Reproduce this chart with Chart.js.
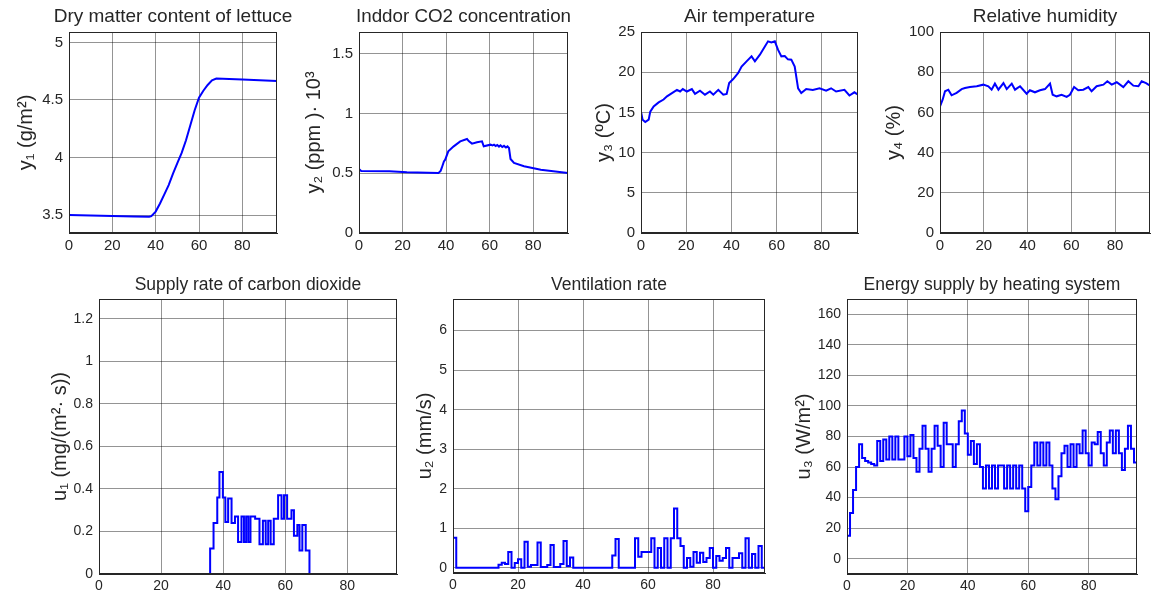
<!DOCTYPE html>
<html>
<head>
<meta charset="utf-8">
<script src="https://cdn.jsdelivr.net/npm/chart.js@4.4.1/dist/chart.umd.min.js"></script>
<style>
  html, body { margin: 0; padding: 0; background: #ffffff; }
  #wrap { position: relative; width: 1161px; height: 594px; overflow: hidden; }
  #wrap canvas { position: absolute; left: 0; top: 0; }
</style>
</head>
<body>
<div id="wrap">
  <canvas id="c1" width="1161" height="594"></canvas>
  <canvas id="c2" width="1161" height="594"></canvas>
  <canvas id="c3" width="1161" height="594"></canvas>
  <canvas id="c4" width="1161" height="594"></canvas>
  <canvas id="c5" width="1161" height="594"></canvas>
  <canvas id="c6" width="1161" height="594"></canvas>
  <canvas id="c7" width="1161" height="594"></canvas>
</div>
<script>
// ---------------- DATA ----------------
const xTickValues = [0, 20, 40, 60, 80];

// y1: dry matter content of lettuce (g/m^2)
const y1Times  = [0, 10, 20, 30, 37, 38, 40, 42, 44, 46, 48, 50, 52, 54, 56, 58, 60, 62, 64, 66, 68, 80, 96];
const y1Values = [3.50, 3.496, 3.492, 3.488, 3.485, 3.49, 3.53, 3.6, 3.68, 3.76, 3.86, 3.95, 4.04, 4.15, 4.28, 4.41, 4.52, 4.58, 4.63, 4.67, 4.685, 4.677, 4.665];
const y1Ticks  = [3.5, 4, 4.5, 5];

// y2: indoor CO2 concentration (ppm * 10^3)
const y2Times  = [0, 1, 14, 22, 36.5, 37.5, 38, 39, 39.6, 41, 43.5, 46.5, 49.6, 50.4, 51.9, 54.2, 56.5, 57.3, 60.4, 61.3, 62, 62.8, 63.5, 64.3, 65, 65.8, 66.6, 67.5, 68.2, 68.9, 69.6, 71.2, 75.8, 83.5, 96];
const y2Values = [0.536, 0.52, 0.517, 0.508, 0.503, 0.52, 0.545, 0.6, 0.614, 0.684, 0.726, 0.768, 0.788, 0.77, 0.749, 0.76, 0.768, 0.726, 0.74, 0.733, 0.74, 0.728, 0.737, 0.724, 0.735, 0.72, 0.73, 0.716, 0.726, 0.712, 0.62, 0.587, 0.559, 0.53, 0.503];
const y2Ticks  = [0, 0.5, 1, 1.5];

// y3: air temperature (deg C)
const y3Times  = [0, 0.7, 1.9, 3.4, 4.1, 5.6, 7.8, 10, 11.5, 13.7, 15.9, 17.3, 18.5, 20.3, 22.5, 23.9, 26.1, 28.3, 30.5, 32, 34.2, 36.4, 37.9, 39, 40.8, 43, 44.5, 46.7, 48.9, 50.4, 52.6, 54.8, 56.2, 57.7, 59.2, 60.6, 62.1, 63.6, 65, 66.5, 68, 69.5, 70.9, 73.1, 76, 79, 81.9, 84.1, 86.3, 90, 92.2, 94.4, 96];
const y3Values = [15.1, 14.1, 13.8, 14.1, 15.1, 15.75, 16.25, 16.6, 17, 17.4, 17.8, 17.6, 17.9, 17.6, 17.9, 17.3, 17.7, 17.2, 17.6, 17.2, 17.8, 17.2, 17.3, 18.66, 19.15, 19.9, 20.7, 21.35, 21.97, 21.35, 22.18, 23.2, 23.84, 23.7, 23.84, 22.8, 21.97, 22, 21.6, 21.56, 20.7, 18.0, 17.4, 17.9, 17.8, 18, 17.7, 18, 17.6, 17.8, 17.1, 17.5, 17.2];
const y3Ticks  = [0, 5, 10, 15, 20, 25];

// y4: relative humidity (%)
const y4Times  = [0, 0.3, 1.2, 2.3, 3.8, 5.3, 7.6, 9.9, 11.4, 13.7, 16.8, 19.8, 22.1, 23.6, 25.1, 26.7, 29, 30.5, 32.8, 34.3, 36.6, 39.6, 41.1, 43.4, 45.7, 48, 50.3, 51.5, 53.3, 55.6, 57.9, 59.4, 61.3, 63.2, 65.5, 67.8, 69.3, 71.6, 74.7, 76.5, 78.5, 80.8, 83.8, 86.1, 88.4, 90.7, 92.2, 94.2, 96];
const y4Values = [63, 63, 66.3, 70.5, 71.3, 68.5, 69.7, 71.6, 72.1, 72.6, 73, 73.8, 73, 71.3, 74.3, 71.3, 74.6, 71.6, 74.3, 71.3, 73, 69.3, 71, 70, 71, 71.6, 74.3, 68.8, 68, 68.8, 67.7, 68.8, 72.6, 71, 71.3, 72.6, 70.5, 73, 73.8, 75.5, 73.8, 75, 72.6, 75.5, 73.3, 73, 75.5, 74.6, 73.3];
const y4Ticks  = [0, 20, 40, 60, 80, 100];

// u1: supply rate of CO2 (mg/(m^2 s)) - step changes at these times
const u1Times  = [0, 35.8, 36.9, 38.1, 38.8, 39.9, 40.7, 41.6, 42.7, 43.8, 44.8, 45.9, 46.7, 47.4, 48.1, 48.8, 50.3, 51.7, 52.8, 53.7, 54.5, 55.3, 56.3, 57.7, 58.8, 59.6, 60.6, 62, 62.8, 63.9, 64.6, 65.5, 66.6, 67.8, 96];
const u1Values = [0, 0.12, 0.24, 0.36, 0.48, 0.36, 0.245, 0.355, 0.24, 0.27, 0.15, 0.27, 0.15, 0.27, 0.15, 0.27, 0.26, 0.14, 0.25, 0.14, 0.25, 0.14, 0.26, 0.37, 0.26, 0.37, 0.26, 0.30, 0.18, 0.23, 0.11, 0.23, 0.11, 0, 0];
const u1Ticks  = [0, 0.2, 0.4, 0.6, 0.8, 1, 1.2];

// u2: ventilation rate (mm/s), one value per hour
const u2Values = [
  0.76, 0, 0, 0, 0, 0, 0, 0, 0, 0,
  0, 0, 0, 0, 0.08, 0.13, 0.1, 0.4, 0, 0.12,
  0.22, 0, 0.66, 0.03, 0.07, 0.07, 0.64, 0.02, 0.02, 0.07,
  0.58, 0.02, 0.02, 0.1, 0.68, 0.05, 0.26, 0, 0, 0,
  0, 0, 0, 0, 0, 0, 0, 0, 0, 0.31,
  0.73, 0, 0, 0, 0, 0, 0.75, 0.28, 0.4, 0.4,
  0.4, 0.75, 0, 0.5, 0, 0.75, 0, 0.75, 1.5, 0.75,
  0.55, 0, 0.25, 0.03, 0.4, 0.13, 0.38, 0.15, 0.25, 0.5,
  0, 0.3, 0.18, 0.25, 0.5, 0, 0.25, 0.25, 0.37, 0,
  0.75, 0, 0.35, 0, 0.55, 0
];
const u2Ticks = [0, 1, 2, 3, 4, 5, 6];

// u3: energy supply by heating system (W/m^2), one value per hour
const u3Values = [
  15, 30, 45, 60, 75, 66, 64, 63, 62, 61,
  77, 64, 78, 65, 80, 65, 80, 65, 65, 80,
  67, 81, 66, 57, 72, 87, 72, 57, 72, 87,
  74, 60, 89, 75, 75, 60, 75, 90, 97, 82,
  68, 77, 62, 75, 60, 46, 61, 46, 61, 46,
  61, 61, 46, 61, 46, 61, 46, 61, 46, 31,
  47, 61, 76, 61, 76, 61, 76, 61, 46, 39,
  54, 69, 74, 60, 75, 60, 75, 69, 84, 69,
  61, 76, 75, 83, 69, 61, 76, 84, 69, 84,
  69, 58, 72, 87, 72, 63
];
const u3Ticks = [0, 20, 40, 60, 80, 100, 120, 140, 160];

// ---------------- HELPERS ----------------
const FAMILY = "'Liberation Sans', Arial, Helvetica, sans-serif";
const TEXT = '#262626';
const GRID = 'rgba(0,0,0,0.42)';
const BLUE = '#0000ff';
const W = 1161, H = 594;

function pairs(times, values) { return times.map((t, i) => ({ x: t, y: values[i] })); }
function hourly(values) {
  const pts = values.map((v, i) => ({ x: i, y: v }));
  pts.push({ x: values.length, y: values[values.length - 1] });
  return pts;
}

// axes box on all four sides
const framePlugin = {
  id: 'frame',
  afterDraw(chart) {
    const { ctx, chartArea: a } = chart;
    ctx.save();
    ctx.strokeStyle = TEXT;
    ctx.lineWidth = 1;
    ctx.strokeRect(Math.round(a.left) + 0.5, Math.round(a.top) + 0.5,
                   Math.round(a.right - a.left) - 1, Math.round(a.bottom - a.top) - 1);
    ctx.restore();
  }
};

// plot title centred over the plot area (may be wider than the plot, as in the original)
const plotTitlePlugin = {
  id: 'plotTitle',
  afterDraw(chart, args, opts) {
    const { ctx, chartArea: a } = chart;
    ctx.save();
    ctx.fillStyle = TEXT;
    ctx.font = opts.size + 'px ' + FAMILY;
    ctx.textAlign = 'center';
    ctx.textBaseline = 'middle';
    ctx.fillText(opts.text, (a.left + a.right) / 2, opts.y);
    ctx.restore();
  }
};

function draw(id, s) {
  const yTitleSize = 20, lh = 1.2;
  const padLeft = s.yTitleCenter - yTitleSize * lh / 2;
  const yW = s.area.l - padLeft;
  new Chart(document.getElementById(id), {
    type: 'line',
    data: {
      datasets: [{
        data: s.points,
        borderColor: BLUE,
        borderWidth: s.lw,
        pointRadius: 0,
        stepped: s.stepped ? 'before' : false,
        tension: 0,
        fill: false
      }]
    },
    options: {
      responsive: false,
      animation: false,
      events: [],
      layout: { padding: { left: padLeft, top: s.area.t, right: W - s.area.r, bottom: H - s.area.b - s.xH } },
      plugins: {
        legend: { display: false },
        tooltip: { enabled: false },
        title: { display: false },
        plotTitle: { text: s.title, size: s.titleSize, y: s.titleCenter }
      },
      scales: {
        x: {
          type: 'linear', min: 0, max: 96,
          afterBuildTicks: sc => { sc.ticks = xTickValues.map(v => ({ value: v })); },
          afterFit: sc => { sc.height = s.xH; },
          ticks: { color: TEXT, font: { family: FAMILY, size: s.tickSize }, padding: 4, maxRotation: 0, autoSkip: false, callback: v => String(v) },
          grid: { color: GRID, drawTicks: false, lineWidth: 1 },
          border: { color: TEXT }
        },
        y: {
          type: 'linear', min: s.yMin, max: s.yMax,
          afterBuildTicks: sc => { sc.ticks = s.yTicks.map(v => ({ value: v })); },
          afterFit: sc => { sc.width = yW; },
          title: { display: true, text: s.yTitle, color: TEXT, padding: 0,
                   font: { family: FAMILY, size: yTitleSize, lineHeight: lh } },
          ticks: { color: TEXT, font: { family: FAMILY, size: s.tickSize }, padding: 6, autoSkip: false, callback: v => String(v) },
          grid: { color: GRID, drawTicks: false, lineWidth: 1 },
          border: { color: TEXT }
        }
      }
    },
    plugins: [framePlugin, plotTitlePlugin]
  });
}

// ---------------- CHARTS ----------------
const topRow = { titleSize: 19, titleCenter: 17, xH: 30, lw: 2, tickSize: 15 };
const botRow = { titleSize: 17.5, titleCenter: 285.5, xH: 20, lw: 2, tickSize: 14 };

draw('c1', Object.assign({}, topRow, {
  points: pairs(y1Times, y1Values), title: 'Dry matter content of lettuce', titleSize: 19,
  yTitle: 'y\u2081 (g/m\u00B2)', yMin: 3.344, yMax: 5.09, yTicks: y1Ticks,
  area: { l: 69, t: 32, r: 277, b: 233 }, yTitleCenter: 26
}));
draw('c2', Object.assign({}, topRow, {
  points: pairs(y2Times, y2Values), title: 'Inddor CO2 concentration', titleSize: 18.8,
  yTitle: 'y\u2082 (ppm )\u00B7 10\u00B3', yMin: 0, yMax: 1.684, yTicks: y2Ticks,
  area: { l: 359, t: 32, r: 568, b: 233 }, yTitleCenter: 314
}));
draw('c3', Object.assign({}, topRow, {
  points: pairs(y3Times, y3Values), title: 'Air temperature',
  yTitle: 'y\u2083 (\u00BAC)', yMin: 0, yMax: 25, yTicks: y3Ticks,
  area: { l: 641, t: 32, r: 858, b: 233 }, yTitleCenter: 604
}));
draw('c4', Object.assign({}, topRow, {
  points: pairs(y4Times, y4Values), title: 'Relative humidity',
  yTitle: 'y\u2084 (%)', yMin: 0, yMax: 100, yTicks: y4Ticks,
  area: { l: 940, t: 32, r: 1150, b: 233 }, yTitleCenter: 894
}));
draw('c5', Object.assign({}, botRow, {
  points: pairs(u1Times, u1Values), stepped: true, title: 'Supply rate of carbon dioxide',
  yTitle: 'u\u2081 (mg/(m\u00B2\u00B7 s))', yMin: 0, yMax: 1.294, yTicks: u1Ticks,
  area: { l: 99, t: 299, r: 397, b: 574 }, yTitleCenter: 60
}));
draw('c6', Object.assign({}, botRow, {
  points: hourly(u2Values), stepped: true, title: 'Ventilation rate',
  yTitle: 'u\u2082 (mm/s)', yMin: -0.13, yMax: 6.8, yTicks: u2Ticks,
  area: { l: 453, t: 299, r: 765, b: 573 }, yTitleCenter: 425
}));
draw('c7', Object.assign({}, botRow, {
  points: hourly(u3Values), stepped: true, title: 'Energy supply by heating system',
  yTitle: 'u\u2083 (W/m\u00B2)', yMin: -10, yMax: 170, yTicks: u3Ticks,
  area: { l: 847, t: 299, r: 1137, b: 574 }, yTitleCenter: 804
}));
</script>
</body>
</html>
